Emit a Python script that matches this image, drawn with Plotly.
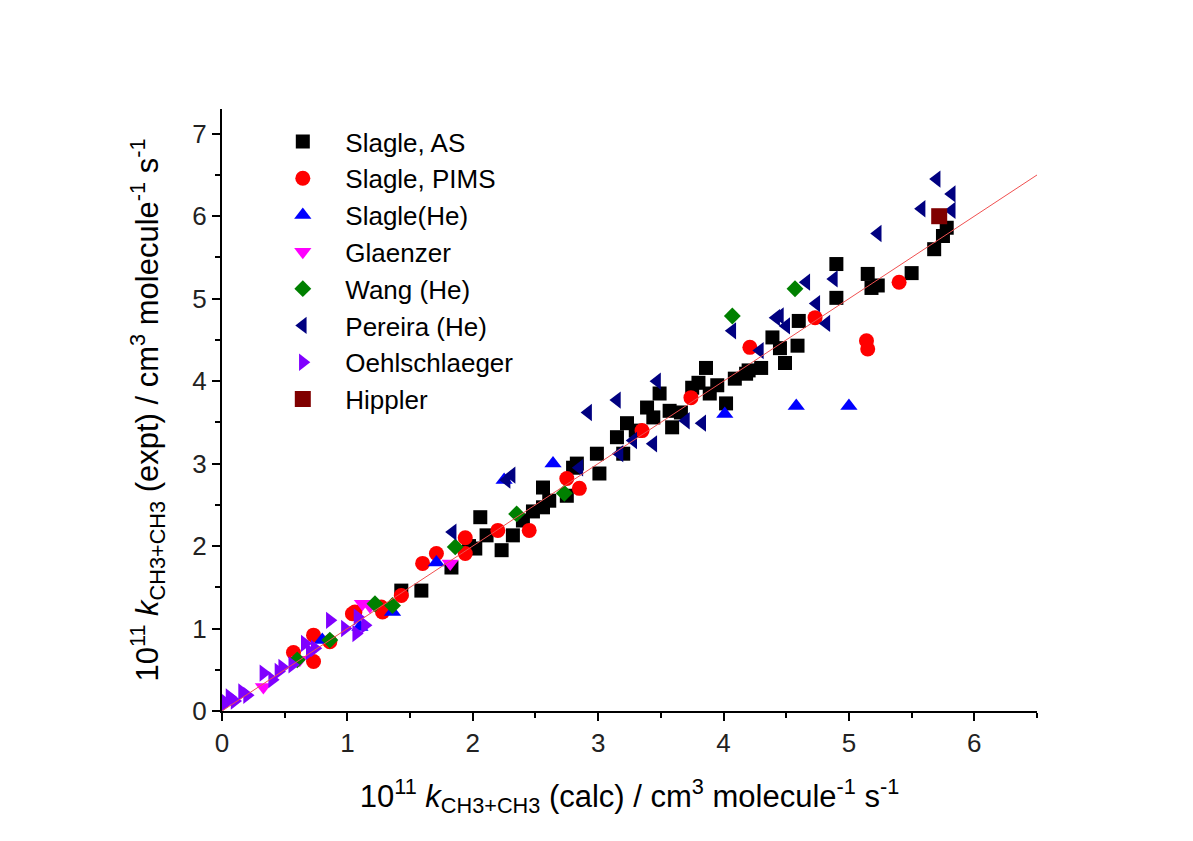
import plotly.graph_objects as go

# ---- data (10^11 k, calc vs expt) ----
slagle_as_x = [1.43, 1.59, 1.83, 1.97, 2.02, 2.06, 2.11, 2.23, 2.32, 2.40, 2.48, 2.56, 2.56, 2.61, 2.75, 2.80,
               2.83, 2.99, 3.01, 3.15, 3.20, 3.23, 3.30, 3.39, 3.44, 3.49, 3.57, 3.59, 3.66, 3.75, 3.80, 3.86,
               3.89, 3.95, 4.02, 4.09, 4.18, 4.20, 4.30, 4.39, 4.45, 4.49, 4.59, 4.60, 4.90, 4.90, 5.15, 5.18,
               5.23, 5.50, 5.68, 5.75, 5.78]
slagle_as_y = [1.46, 1.46, 1.74, 2.00, 1.97, 2.35, 2.13, 1.95, 2.13, 2.31, 2.42, 2.47, 2.71, 2.55, 2.61, 2.95,
               3.00, 3.12, 2.88, 3.32, 3.12, 3.49, 3.40, 3.68, 3.56, 3.85, 3.64, 3.44, 3.62, 3.92, 3.98, 4.16,
               3.85, 3.95, 3.73, 4.03, 4.09, 4.13, 4.16, 4.53, 4.40, 4.22, 4.43, 4.73, 5.01, 5.42, 5.30, 5.13,
               5.16, 5.31, 5.60, 5.76, 5.86]

slagle_pims_x = [0.57, 0.73, 0.73, 0.86, 1.04, 1.06, 1.27, 1.28, 1.43, 1.60, 1.71, 1.94, 1.94, 2.20, 2.45,
                 2.75, 2.85, 3.35, 3.74, 4.21, 4.73, 5.14, 5.15, 5.40]
slagle_pims_y = [0.71, 0.92, 0.60, 0.84, 1.18, 1.20, 1.26, 1.20, 1.40, 1.79, 1.91, 1.91, 2.10, 2.19, 2.19,
                 2.82, 2.70, 3.40, 3.80, 4.41, 4.77, 4.49, 4.39, 5.20]

slagle_he_x = [0.80, 1.10, 1.36, 1.71, 2.25, 2.64, 4.01, 4.58, 5.00]
slagle_he_y = [0.86, 1.02, 1.20, 1.80, 2.80, 3.00, 3.60, 3.70, 3.70]

glaenzer_x = [0.33, 0.62, 1.12, 1.18, 1.82]
glaenzer_y = [0.29, 0.62, 1.30, 1.27, 1.79]

wang_x = [0.60, 0.86, 1.22, 1.36, 1.86, 2.35, 2.73, 4.07, 4.57]
wang_y = [0.62, 0.86, 1.30, 1.28, 1.99, 2.39, 2.64, 4.79, 5.12]

pereira_x = [1.84, 2.27, 2.31, 2.85, 2.92, 3.15, 3.17, 3.28, 3.44, 3.47, 3.70, 3.83, 4.07, 4.29, 4.42,
             4.45, 4.50, 4.66, 4.74, 4.82, 4.88, 5.23, 5.58, 5.70, 5.82, 5.82]
pereira_y = [2.17, 2.80, 2.86, 2.95, 3.62, 3.77, 3.12, 3.28, 3.24, 4.00, 3.52, 3.49, 4.61, 4.37, 4.77,
             4.79, 4.67, 5.20, 4.94, 4.70, 5.24, 5.79, 6.09, 6.45, 6.27, 6.07]

oehl_x = [0.00, 0.03, 0.06, 0.10, 0.16, 0.20, 0.33, 0.40, 0.45, 0.48, 0.56, 0.66, 0.70, 0.74, 0.86,
          0.98, 1.07, 1.08, 1.14]
oehl_y = [0.07, 0.10, 0.17, 0.12, 0.23, 0.19, 0.46, 0.38, 0.48, 0.53, 0.56, 0.82, 0.72, 0.76, 1.10,
          1.00, 0.94, 1.14, 1.04]

hippler_x = [5.72]
hippler_y = [6.00]

line_x = [0.0, 6.5]
line_y = [0.0, 6.5]

series = [
    ("Slagle, AS", slagle_as_x, slagle_as_y, "square", "#000000", 14),
    ("Slagle, PIMS", slagle_pims_x, slagle_pims_y, "circle", "#FF0000", 15),
    ("Slagle(He)", slagle_he_x, slagle_he_y, "triangle-up", "#0000FF", 15),
    ("Glaenzer", glaenzer_x, glaenzer_y, "triangle-down", "#FF00FF", 15),
    ("Wang (He)", wang_x, wang_y, "diamond", "#008000", 13),
    ("Pereira (He)", pereira_x, pereira_y, "triangle-left", "#000080", 15),
    ("Oehlschlaeger", oehl_x, oehl_y, "triangle-right", "#8000FF", 15),
    ("Hippler", hippler_x, hippler_y, "square", "#800000", 16),
]

fig = go.Figure()
for i, (name, xs, ys, sym, col, sz) in enumerate(series):
    fig.add_trace(go.Scatter(
        x=xs, y=ys, mode="markers", name=name,
        marker=dict(symbol=sym, color=col, size=sz, line=dict(width=0)),
    ))

fig.add_trace(go.Scatter(x=line_x, y=line_y, mode="lines", showlegend=False,
                         line=dict(color="#F05050", width=1)))

font_family = "Liberation Sans, Arial, sans-serif"
axis_common = dict(
    showline=True, linecolor="black", linewidth=2, mirror=False,
    ticks="outside", ticklen=8, tickwidth=2, tickcolor="black",
    showgrid=False, zeroline=False, dtick=1,
    tickfont=dict(family=font_family, size=26, color="#222222"),
    minor=dict(ticks="outside", ticklen=5, tickwidth=2, tickcolor="black", dtick=0.5, showgrid=False),
)

fig.update_layout(
    width=1193, height=841,
    margin=dict(l=222, r=156, t=109, b=130),
    paper_bgcolor="white", plot_bgcolor="white",
    font=dict(family=font_family, color="black"),
    xaxis=dict(range=[0, 6.5], tick0=0,
               title=dict(text="10<sup>11</sup> <i>k</i><sub>CH3+CH3</sub> (calc) / cm<sup>3</sup> molecule<sup>-1</sup> s<sup>-1</sup>",
                          font=dict(family=font_family, size=31, color="black"), standoff=28),
               **axis_common),
    yaxis=dict(range=[0, 7.3], tick0=0,
               title=dict(text="10<sup>11</sup> <i>k</i><sub>CH3+CH3</sub> (expt) / cm<sup>3</sup> molecule<sup>-1</sup> s<sup>-1</sup>",
                          font=dict(family=font_family, size=31, color="black"), standoff=24),
               **axis_common),
    legend=dict(x=0.047, y=0.985, xanchor="left", yanchor="top",
                font=dict(family=font_family, size=26, color="black"),
                bgcolor="rgba(0,0,0,0)", itemwidth=75),
    showlegend=True,
)

fig.write_html("out.html")
